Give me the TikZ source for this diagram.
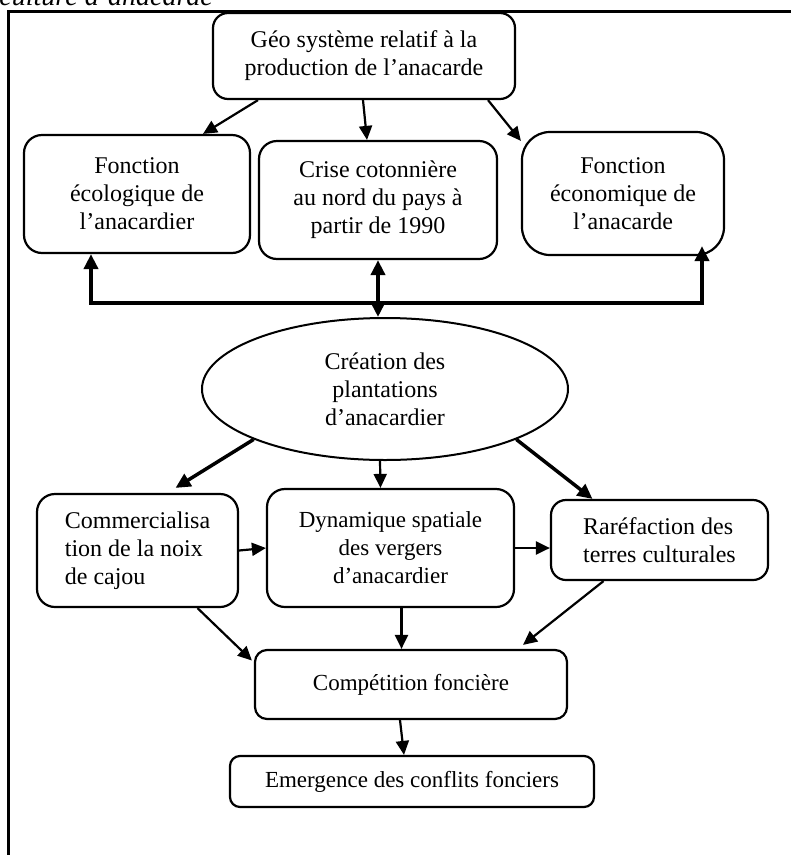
\documentclass[tikz,border=0pt]{standalone}
\usepackage{fontspec}
\setmainfont{Liberation Serif}
\usetikzlibrary{arrows.meta,shapes.geometric}

\begin{document}
\begin{tikzpicture}[x=1pt,y=-1pt,
        box/.style={draw,line width=2.2pt,rounded corners=18pt,align=center,inner sep=3pt,font=\fontsize{24}{28}\selectfont},
        smalltext/.style={font=\fontsize{23}{28}\selectfont},
        arr/.style={line width=2.2pt,-{Triangle[length=14pt,width=13pt]}},
        thickarr/.style={line width=3.5pt,-{Triangle[length=15pt,width=14pt]}},
        busline/.style={line width=3.8pt,-{Triangle[length=15pt,width=14pt]}}]
    \useasboundingbox (0,0) rectangle (791,855);

    % cadre et titre coupe
    \node[anchor=base east,inner sep=0pt,font=\fontsize{28}{32}\selectfont\itshape] (caption) at (213,5) {culture d’anacarde};
    \draw[line width=3pt] (8,855) -- (8,11) -- (791,11);

    % premiere rangee
    \node[box,minimum width=302pt,minimum height=86pt,rounded corners=15pt] (geo) at (364,56) {Géo système relatif à la\\production de l’anacarde};
    \node[box,minimum width=226pt,minimum height=118pt] (eco) at (137,194) {Fonction\\écologique de\\l’anacardier};
    \node[box,minimum width=238pt,minimum height=118pt] (crise) at (378,200) {Crise cotonnière\\au nord du pays à\\partir de 1990};
    \node[box,minimum width=202pt,minimum height=123pt,rounded corners=28pt] (econ) at (623,193.5) {Fonction\\économique de\\l’anacarde};

    \draw[arr] ([xshift=-106pt]geo.south) -- ([xshift=66pt]eco.north);
    \draw[arr] ([xshift=-1pt]geo.south) -- ([xshift=-11pt]crise.north);
    \draw[arr] ([xshift=124pt]geo.south) -- ([shift={(0pt,-10pt)}]econ.north west);

    % liaison centrale
    \node[draw,ellipse,line width=2pt,minimum width=366pt,minimum height=142pt,align=center,inner sep=0pt,font=\fontsize{24}{28}\selectfont] (creation) at (385,389) {Création des\\plantations\\d’anacardier};
    \coordinate (bus) at (378,303);
    \draw[busline] (bus) -| ([xshift=-46pt]eco.south);
    \draw[busline] (bus) -| ([shift={(79pt,10pt)}]econ.south);
    \draw[busline,{Triangle[length=15pt,width=14pt]}-{Triangle[length=15pt,width=14pt]}] (crise.south) -- (crise.south |- creation.north);

    % deuxieme rangee
    \node[box,minimum width=201pt,minimum height=113pt,align=left] (comm) at (137.5,550.5) {Commercialisa\\tion de la noix\\de cajou};
    \node[box,smalltext,minimum width=247pt,minimum height=118pt] (dyn) at (390.5,548) {Dynamique spatiale\\des vergers\\d’anacardier};
    \node[box,minimum width=217pt,minimum height=80pt,align=left,rounded corners=15pt] (rare) at (659.5,540) {Raréfaction des\\terres culturales};

    \draw[thickarr] (creation.201) -- ([shift={(38pt,5pt)}]comm.north);
    \draw[arr] ([xshift=-5pt]creation.south) -- ([xshift=-10pt]dyn.north);
    \draw[thickarr] (creation.-21) -- ([xshift=-67pt]rare.north);
    \draw[arr] (comm.east) -- (dyn.west);
    \draw[arr] (dyn.east) -- (dyn.east -| rare.west);

    % conflits
    \node[box,smalltext,minimum width=312pt,minimum height=69pt,rounded corners=12pt] (comp) at (411,684.5) {Compétition foncière};
    \node[box,smalltext,minimum width=364pt,minimum height=51pt,rounded corners=10pt] (emer) at (412,781.5) {Emergence des conflits fonciers};

    \draw[arr] ([xshift=60pt]comm.south) -- ([shift={(-2pt,24pt)}]comp.west);
    \draw[arr] ([xshift=11pt]dyn.south) -- ([xshift=11pt]dyn.south |- comp.north);
    \draw[arr] ([xshift=-56pt]rare.south) -- ([shift={(112pt,4pt)}]comp.north);
    \draw[arr] ([xshift=-11pt]comp.south) -- ([xshift=-8pt]emer.north);
\end{tikzpicture}
\end{document}
